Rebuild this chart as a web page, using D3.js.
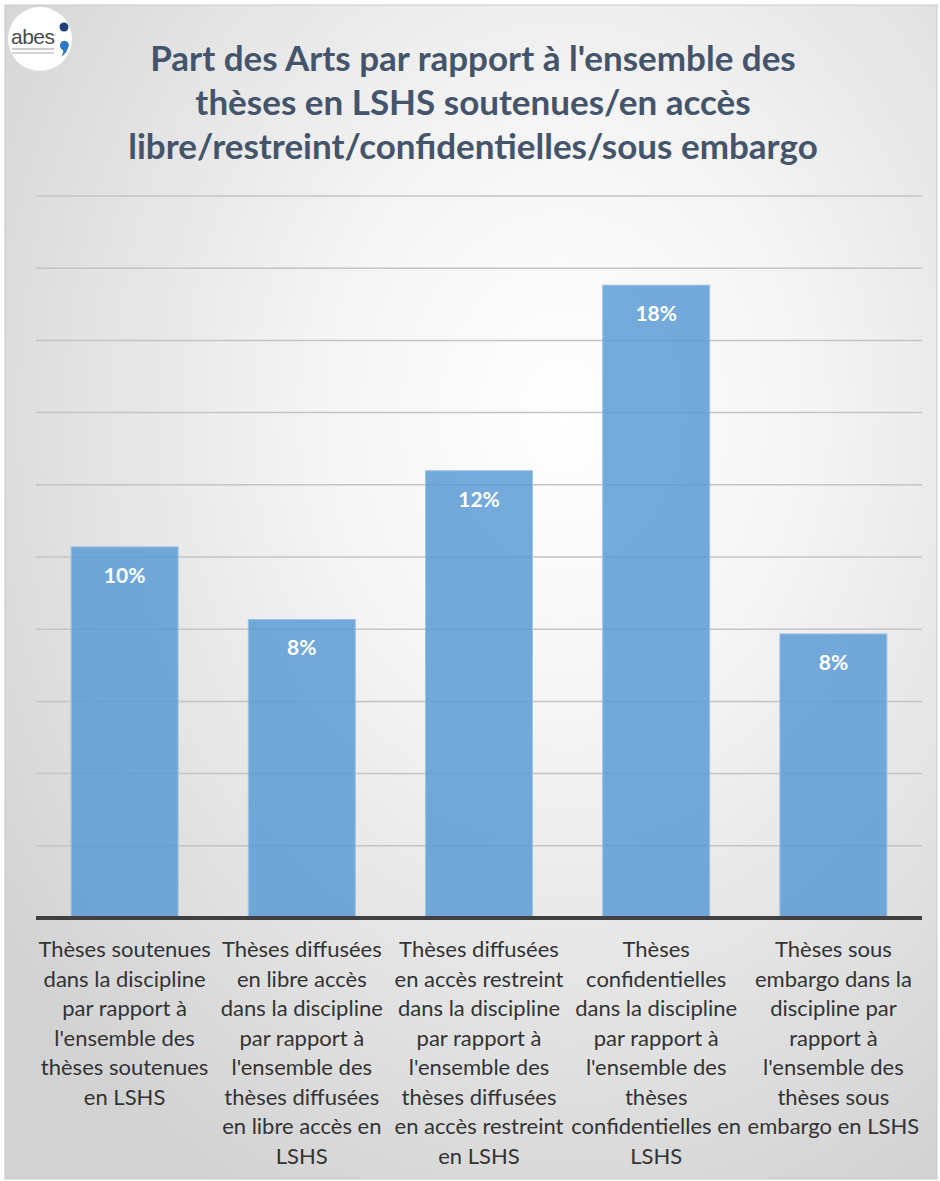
<!DOCTYPE html>
<html><head><meta charset="utf-8">
<script src="https://cdn.jsdelivr.net/npm/d3@7"></script>
<style>html,body{margin:0;padding:0;background:#fff;}</style>
</head><body>
<script>
const titleLines = ["Part des Arts par rapport à l'ensemble des", "thèses en LSHS soutenues/en accès", "libre/restreint/confidentielles/sous embargo"];
const categories = ["soutenues", "libre", "restreint", "confidentielles", "embargo"];
const categoryLines = [
  ["Thèses soutenues", "dans la discipline", "par rapport à", "l'ensemble des", "thèses soutenues", "en LSHS"],
  ["Thèses diffusées", "en libre accès", "dans la discipline", "par rapport à", "l'ensemble des", "thèses diffusées", "en libre accès en", "LSHS"],
  ["Thèses diffusées", "en accès restreint", "dans la discipline", "par rapport à", "l'ensemble des", "thèses diffusées", "en accès restreint", "en LSHS"],
  ["Thèses", "confidentielles", "dans la discipline", "par rapport à", "l'ensemble des", "thèses", "confidentielles en", "LSHS"],
  ["Thèses sous", "embargo dans la", "discipline par", "rapport à", "l'ensemble des", "thèses sous", "embargo en LSHS"]
];
const values = [0.1028, 0.0827, 0.1239, 0.1753, 0.0787];
const yTicks = [0, 0.02, 0.04, 0.06, 0.08, 0.10, 0.12, 0.14, 0.16, 0.18, 0.20];

const W = 940, H = 1181;
const svg = d3.select("body").append("svg").attr("width", W).attr("height", H);
const defs = svg.append("defs");
const grad = defs.append("radialGradient").attr("id", "bg")
  .attr("cx", "0.6").attr("cy", "0.35").attr("r", "0.75");
grad.append("stop").attr("offset", "0").attr("stop-color", "#ffffff");
grad.append("stop").attr("offset", "0.35").attr("stop-color", "#f4f4f4");
grad.append("stop").attr("offset", "1").attr("stop-color", "#d2d2d2");

svg.append("rect").attr("x", 5).attr("y", 5).attr("width", 932).attr("height", 1174)
  .attr("fill", "url(#bg)").attr("stroke", "#c8c8c8").attr("stroke-width", 1);

// logo
const logo = svg.append("g");
logo.append("circle").attr("cx", 40).attr("cy", 39).attr("r", 32).attr("fill", "#ffffff");
logo.append("text").attr("x", 11).attr("y", 44).attr("font-family", "Liberation Sans, Arial, sans-serif")
  .attr("font-size", 21).attr("letter-spacing", -0.5).attr("fill", "#4a4a4a").text("abes");
logo.append("line").attr("x1", 12).attr("x2", 54).attr("y1", 49).attr("y2", 49).attr("stroke", "#999").attr("stroke-width", 1);
logo.append("line").attr("x1", 12).attr("x2", 54).attr("y1", 53).attr("y2", 53).attr("stroke", "#aaa").attr("stroke-width", 1);
logo.append("circle").attr("cx", 64).attr("cy", 27).attr("r", 4.5).attr("fill", "#1f3f7a");
logo.append("path").attr("d", "M60,46 a4.5,4.5 0 1 1 8,2 q-2,6 -7,9 q3,-4 2,-7 a4.5,4.5 0 0 1 -3,-4 z")
  .attr("fill", "#2a78c8");

// title
svg.append("g").selectAll("text").data(titleLines).join("text")
  .attr("x", 473).attr("y", (d, i) => 71 + i * 44)
  .attr("text-anchor", "middle")
  .attr("font-family", "Lato, 'Open Sans', sans-serif").attr("font-weight", "bold")
  .attr("font-size", 35).attr("fill", "#44546a").text(d => d);

const x = d3.scaleBand().domain(categories).range([36, 922]).paddingInner(0.396).paddingOuter(0.198);
const y = d3.scaleLinear().domain([0, 0.20]).range([918, 196]);

// gridlines
svg.append("g").selectAll("line").data(yTicks.slice(1)).join("line")
  .attr("x1", 36).attr("x2", 922).attr("y1", d => y(d)).attr("y2", d => y(d))
  .attr("stroke", "#c4c4c4").attr("stroke-width", 1.5);

// bars
svg.append("g").selectAll("rect").data(values).join("rect")
  .attr("x", (d, i) => x(categories[i])).attr("width", x.bandwidth())
  .attr("y", d => y(d)).attr("height", d => y(0) - y(d))
  .attr("fill", "#5b9bd5").attr("fill-opacity", 0.85)
  .attr("stroke", "#9dc3e6").attr("stroke-width", 1);

// baseline
svg.append("line").attr("x1", 36).attr("x2", 922).attr("y1", y(0)).attr("y2", y(0))
  .attr("stroke", "#404040").attr("stroke-width", 4);

// data labels
svg.append("g").selectAll("text").data(values).join("text")
  .attr("x", (d, i) => x(categories[i]) + x.bandwidth() / 2)
  .attr("y", d => y(d) + 36)
  .attr("text-anchor", "middle")
  .attr("font-family", "Lato, 'Open Sans', sans-serif").attr("font-weight", "bold")
  .attr("font-size", 21).attr("fill", "#ffffff")
  .text(d => d3.format(".0%")(d));

// category labels
const catG = svg.append("g");
categoryLines.forEach((lines, i) => {
  catG.append("text")
    .attr("text-anchor", "middle")
    .attr("font-family", "Lato, 'Open Sans', sans-serif")
    .attr("font-size", 22).attr("fill", "#333333")
    .selectAll("tspan").data(lines).join("tspan")
    .attr("x", x(categories[i]) + x.bandwidth() / 2)
    .attr("y", (d, j) => 957 + j * 29.5)
    .text(d => d);
});
</script>
</body></html>
